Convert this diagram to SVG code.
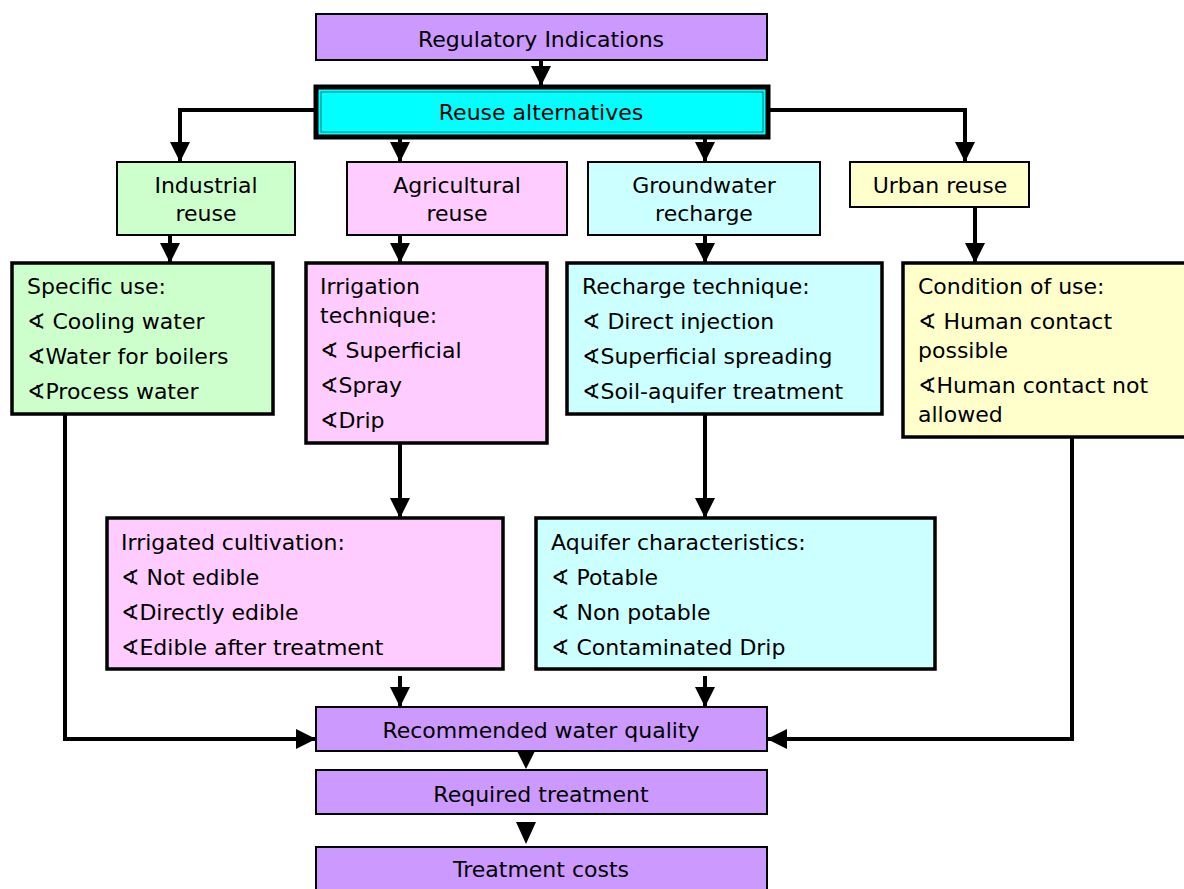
<svg xmlns="http://www.w3.org/2000/svg" width="1184" height="889" viewBox="0 0 1184 889">
  <defs>
    <style>
      text { font-family: "DejaVu Sans", "Liberation Sans", sans-serif; font-size: 22px; fill: #000; }
      .c { text-anchor: middle; }
      .thin { stroke: #000; stroke-width: 2; }
      .thick { stroke: #000; stroke-width: 3.5; }
      .purple { fill: #cc99ff; }
      .green { fill: #ccffcc; }
      .pink { fill: #ffccff; }
      .cyan { fill: #ccffff; }
      .yellow { fill: #ffffcc; }
      .wire { fill: none; stroke: #000; stroke-width: 4; }
    </style>
    <marker id="ah" viewBox="0 0 10 10" refX="10" refY="5" markerWidth="5" markerHeight="5" orient="auto" markerUnits="strokeWidth">
      <path d="M0,0 L10,5 L0,10 Z" fill="#000"/>
    </marker>
  </defs>

  <!-- connectors -->
  <g id="connectors">
    <path class="wire" d="M541,60 V86" marker-end="url(#ah)"/>
    <path class="wire" d="M316,110 H180 V162" marker-end="url(#ah)"/>
    <path class="wire" d="M770,110 H965 V162" marker-end="url(#ah)"/>
    <path class="wire" d="M400,138 V162" marker-end="url(#ah)"/>
    <path class="wire" d="M705,138 V162" marker-end="url(#ah)"/>
    <path class="wire" d="M170,235 V263" marker-end="url(#ah)"/>
    <path class="wire" d="M400,235 V263" marker-end="url(#ah)"/>
    <path class="wire" d="M705,235 V263" marker-end="url(#ah)"/>
    <path class="wire" d="M975,207 V263" marker-end="url(#ah)" stroke-width="4.5"/>
    <path class="wire" d="M400,443 V518" marker-end="url(#ah)"/>
    <path class="wire" d="M705,414 V518" marker-end="url(#ah)"/>
    <path class="wire" d="M400,676 V707" marker-end="url(#ah)"/>
    <path class="wire" d="M705,676 V707" marker-end="url(#ah)"/>
    <path class="wire" d="M65,414 V739 H316" marker-end="url(#ah)"/>
    <path class="wire" d="M1072,437 V739 H767" marker-end="url(#ah)"/>
    <path d="M516,749 L536,749 L526,769 Z" fill="#000"/>
    <path d="M516,822 L536,822 L526,844 Z" fill="#000"/>
  </g>

  <g id="regulatory">
    <rect x="316" y="14" width="451" height="46" class="purple thin"/>
    <text x="541" y="47" class="c">Regulatory Indications</text>
  </g>

  <g id="reuse-alternatives">
    <rect x="316" y="87" width="452" height="50" fill="#00ffff" stroke="#000" stroke-width="5"/>
    <rect x="321" y="92" width="442" height="40" fill="none" stroke="#007777" stroke-width="1"/>
    <text x="541" y="120" class="c">Reuse alternatives</text>
  </g>

  <g id="industrial">
    <rect x="117" y="162" width="178" height="73" class="green thin"/>
    <text x="206" y="193" class="c">Industrial</text>
    <text x="206" y="221" class="c">reuse</text>
  </g>

  <g id="agricultural">
    <rect x="347" y="162" width="220" height="73" class="pink thin"/>
    <text x="457" y="193" class="c">Agricultural</text>
    <text x="457" y="221" class="c">reuse</text>
  </g>

  <g id="groundwater">
    <rect x="588" y="162" width="232" height="73" class="cyan thin"/>
    <text x="704" y="193" class="c">Groundwater</text>
    <text x="704" y="221" class="c">recharge</text>
  </g>

  <g id="urban">
    <rect x="850" y="162" width="179" height="45" class="yellow thin"/>
    <text x="940" y="193" class="c">Urban reuse</text>
  </g>

  <g id="specific-use">
    <rect x="12" y="263" width="261" height="151" class="green thick"/>
    <text x="27" y="294">Specific use:</text>
    <text x="27" y="329">∢ Cooling water</text>
    <text x="27" y="364">∢Water for boilers</text>
    <text x="27" y="399">∢Process water</text>
  </g>

  <g id="irrigation-technique">
    <rect x="306" y="263" width="241" height="180" class="pink thick"/>
    <text x="320" y="294">Irrigation</text>
    <text x="320" y="323">technique:</text>
    <text x="320" y="358">∢ Superficial</text>
    <text x="320" y="393">∢Spray</text>
    <text x="320" y="428">∢Drip</text>
  </g>

  <g id="recharge-technique">
    <rect x="567" y="263" width="315" height="151" class="cyan thick"/>
    <text x="582" y="294">Recharge technique:</text>
    <text x="582" y="329">∢ Direct injection</text>
    <text x="582" y="364">∢Superficial spreading</text>
    <text x="582" y="399">∢Soil-aquifer treatment</text>
  </g>

  <g id="condition-of-use">
    <rect x="903" y="263" width="290" height="174" class="yellow thick"/>
    <text x="918" y="294">Condition of use:</text>
    <text x="918" y="329">∢ Human contact</text>
    <text x="918" y="358">possible</text>
    <text x="918" y="393">∢Human contact not</text>
    <text x="918" y="422">allowed</text>
  </g>

  <g id="irrigated-cultivation">
    <rect x="107" y="518" width="396" height="151" class="pink thick"/>
    <text x="121" y="550">Irrigated cultivation:</text>
    <text x="121" y="585">∢ Not edible</text>
    <text x="121" y="620">∢Directly edible</text>
    <text x="121" y="655">∢Edible after treatment</text>
  </g>

  <g id="aquifer-characteristics">
    <rect x="536" y="518" width="399" height="151" class="cyan thick"/>
    <text x="551" y="550">Aquifer characteristics:</text>
    <text x="551" y="585">∢ Potable</text>
    <text x="551" y="620">∢ Non potable</text>
    <text x="551" y="655">∢ Contaminated Drip</text>
  </g>

  <g id="recommended-quality">
    <rect x="316" y="707" width="451" height="44" class="purple thin"/>
    <text x="541" y="738" class="c">Recommended water quality</text>
  </g>

  <g id="required-treatment">
    <rect x="316" y="770" width="451" height="44" class="purple thin"/>
    <text x="541" y="802" class="c">Required treatment</text>
  </g>

  <g id="treatment-costs">
    <rect x="316" y="847" width="451" height="50" class="purple thin"/>
    <text x="541" y="877" class="c">Treatment costs</text>
  </g>
</svg>
